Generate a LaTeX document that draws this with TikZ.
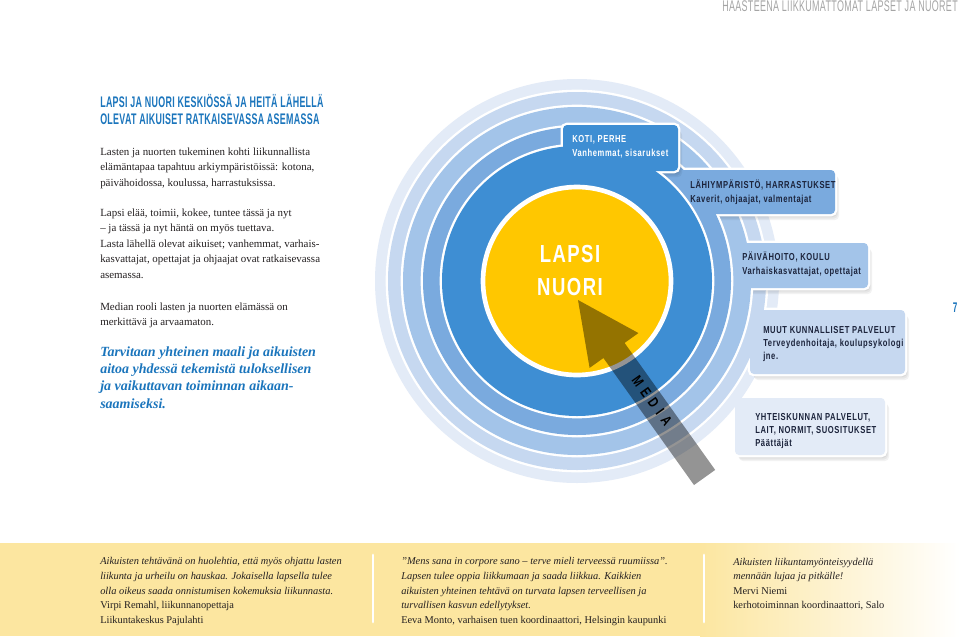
\documentclass[tikz,border=0pt]{standalone}
\usepackage{fontspec}
\setmainfont{Liberation Serif}
\newfontfamily\headfont[FakeStretch=0.58,LetterSpace=2]{Liberation Sans}
\newfontfamily\boxfont[FakeStretch=0.75,LetterSpace=6]{Liberation Sans}
\usepackage{xcolor}
\usepackage{tikz}
\usetikzlibrary{calc}

\definecolor{ringA}{RGB}{62,142,211}
\definecolor{ringB}{RGB}{122,170,222}
\definecolor{ringC}{RGB}{163,196,233}
\definecolor{ringD}{RGB}{198,216,240}
\definecolor{ringE}{RGB}{227,235,247}
\definecolor{childyellow}{RGB}{255,199,0}
\definecolor{headblue}{RGB}{27,117,188}
\definecolor{textblack}{RGB}{35,31,32}
\definecolor{boxnavy}{RGB}{28,36,60}
\definecolor{runninggray}{RGB}{165,165,165}
\definecolor{bandyellow}{RGB}{252,230,160}

% multi-line nodes: the base anchor sits on the last line
\tikzset{
  ringline/.style={draw=white, line width=3.5pt},
  title/.style={anchor=base west, inner sep=0pt, align=left, text=headblue,
    font=\headfont\bfseries\fontsize{11.5}{12.75}\selectfont},
  bodytext/.style={anchor=base west, inner sep=0pt, align=left, text=textblack,
    font=\fontsize{8.2}{11.6}\selectfont},
  calltext/.style={bodytext, text=headblue,
    font=\bfseries\itshape\fontsize{10.5}{13}\selectfont},
  boxtext/.style={anchor=base west, inner sep=0pt, align=left, text=boxnavy,
    font=\boxfont\bfseries\fontsize{7.6}{10}\selectfont},
  quotetext/.style={anchor=base west, inner sep=0pt, align=left, text=textblack,
    font=\fontsize{7.8}{10.9}\selectfont},
}

\begin{document}
\begin{tikzpicture}[x=0.75pt, y=-0.75pt, line cap=round]
  \useasboundingbox (0,0) rectangle (960,636);
  \coordinate (hub) at (577,281);

  \newcommand{\ringlevel}[4]{% #1=radius, #2=colour, #3=box top left, #4=box bottom right
    \foreach \s in {1,...,4}
      \fill[black, opacity=0.05, rounded corners=3pt] ($#3+(\s,1.5*\s)$) rectangle ($#4+(\s,1.5*\s)$);
    \filldraw[fill=#2, ringline] (hub) circle (#1);
    \filldraw[fill=#2, ringline, rounded corners=3pt] #3 rectangle #4;
    \fill[#2] (hub) circle (#1);
    \fill[#2, rounded corners=3pt] #3 rectangle #4;
  }

  % bottom band
  \fill[bandyellow] (0,543) rectangle (700,636);
  \shade[left color=bandyellow, right color=white] (700,543) rectangle (960,636);
  \draw[white, line width=2.2pt] (373,555) -- (373,622);
  \draw[white, line width=2.2pt] (704,555) -- (704,622);

  % rings, outermost first
  \ringlevel{202}{ringE}{(735,398)}{(885,455)}
  \ringlevel{189}{ringD}{(750,310)}{(905,374)}
  \ringlevel{174}{ringC}{(737,243)}{(868,288)}
  \ringlevel{154}{ringB}{(680,170)}{(835,214)}
  \ringlevel{135}{ringA}{(563,125)}{(678,171)}
  \filldraw[fill=childyellow, ringline] (hub) circle (94);

  % media arrow
  \coordinate (tip) at (578,300);
  \coordinate (neck) at ($(tip)+(54.5:62)$);
  \coordinate (tail) at ($(tip)+(54.5:218)$);
  \fill[black, fill opacity=0.42] (tip) -- ($(neck)+(-35.5:30)$) -- ($(neck)+(-35.5:13)$)
    -- ($(tail)+(-35.5:13)$) -- ($(tail)+(144.5:13)$) -- ($(neck)+(144.5:13)$)
    -- ($(neck)+(144.5:30)$) -- cycle;
  \node[rotate=-54.5, text=black, inner sep=0pt,
    font=\boxfont\bfseries\fontsize{11}{11}\selectfont\addfontfeatures{LetterSpace=38}]
    (media) at (652,401) {MEDIA};

  \node[anchor=base, inner sep=0pt, align=center, text=white,
    font=\boxfont\bfseries\fontsize{18.5}{24.75}\selectfont] (child) at (570,295) {LAPSI\\NUORI};

  % box labels
  \node[boxtext, text=white] (home) at (572,156.3) {KOTI, PERHE\\Vanhemmat, sisarukset};
  \node[boxtext] (neighbourhood) at (690,202.3) {LÄHIYMPÄRISTÖ, HARRASTUKSET\\Kaverit, ohjaajat, valmentajat};
  \node[boxtext] (school) at (742,274.3) {PÄIVÄHOITO, KOULU\\Varhaiskasvattajat, opettajat};
  \node[boxtext] (services) at (763,359.7) {MUUT KUNNALLISET PALVELUT\\Terveydenhoitaja, koulupsykologi\\jne.};
  \node[boxtext] (society) at (755,446.7) {YHTEISKUNNAN PALVELUT,\\LAIT, NORMIT, SUOSITUKSET\\Päättäjät};

  % left column
  \node[anchor=base east, inner sep=0pt, text=runninggray,
    font=\headfont\fontsize{11.6}{12}\selectfont] (running) at (958,11.5)
    {HAASTEENA LIIKKUMATTOMAT LAPSET JA NUORET};
  \node[title] (heading) at (100,124)
    {LAPSI JA NUORI KESKIÖSSÄ JA HEITÄ LÄHELLÄ\\OLEVAT AIKUISET RATKAISEVASSA ASEMASSA};
  \node[bodytext] (para1) at (100,186)
    {Lasten ja nuorten tukeminen kohti liikunnallista\\
     elämäntapaa tapahtuu arkiympäristöissä: kotona,\\
     päivähoidossa, koulussa, harrastuksissa.};
  \node[bodytext] (para2) at (100,278)
    {Lapsi elää, toimii, kokee, tuntee tässä ja nyt\\
     – ja tässä ja nyt häntä on myös tuettava.\\
     Lasta lähellä olevat aikuiset; vanhemmat, varhais-\\
     kasvattajat, opettajat ja ohjaajat ovat ratkaisevassa\\
     asemassa.};
  \node[bodytext] (para3) at (100,325.5)
    {Median rooli lasten ja nuorten elämässä on\\merkittävä ja arvaamaton.};
  \node[calltext] (call) at (100,408)
    {Tarvitaan yhteinen maali ja aikuisten\\
     aitoa yhdessä tekemistä tuloksellisen\\
     ja vaikuttavan toiminnan aikaan-\\
     saamiseksi.};
  \node[anchor=base, inner sep=0pt, text=headblue,
    font=\headfont\bfseries\fontsize{10.5}{12}\selectfont] (pagenum) at (955,312) {7};

  % quotes
  \node[quotetext] (quoteA) at (100,623.1)
    {\textit{Aikuisten tehtävänä on huolehtia, että myös ohjattu lasten}\\
     \textit{liikunta ja urheilu on hauskaa. Jokaisella lapsella tulee}\\
     \textit{olla oikeus saada onnistumisen kokemuksia liikunnasta.}\\
     Virpi Remahl, liikunnanopettaja\\
     Liikuntakeskus Pajulahti};
  \node[quotetext] (quoteB) at (401,623.1)
    {\textit{”Mens sana in corpore sano – terve mieli terveessä ruumiissa”.}\\
     \textit{Lapsen tulee oppia liikkumaan ja saada liikkua. Kaikkien}\\
     \textit{aikuisten yhteinen tehtävä on turvata lapsen terveellisen ja}\\
     \textit{turvallisen kasvun edellytykset.}\\
     Eeva Monto, varhaisen tuen koordinaattori, Helsingin kaupunki};
  \node[quotetext] (quoteC) at (733,608.6)
    {\textit{Aikuisten liikuntamyönteisyydellä}\\
     \textit{mennään lujaa ja pitkälle!}\\
     Mervi Niemi\\
     kerhotoiminnan koordinaattori, Salo};
\end{tikzpicture}
\end{document}
